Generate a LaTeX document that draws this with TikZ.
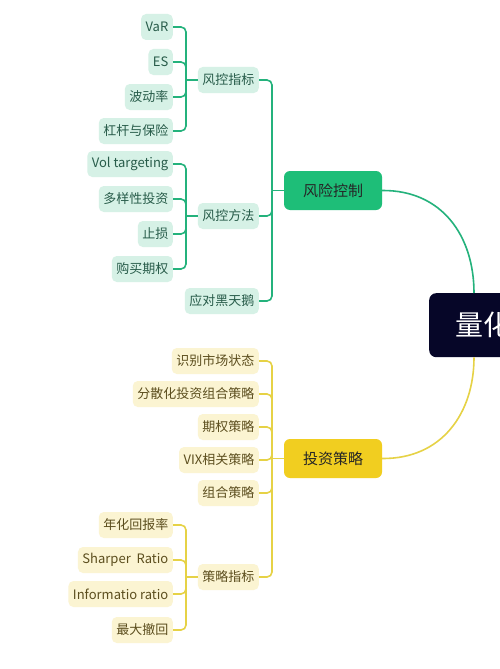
\documentclass[tikz,border=0pt]{standalone}
\usepackage{fontspec}
\setmainfont{Noto Sans CJK SC}
\usetikzlibrary{calc}
\definecolor{cg1}{RGB}{36,178,124}   % green lines
\definecolor{cg2}{RGB}{30,190,120}   % green main box
\definecolor{cg3}{RGB}{214,241,230}  % green leaf fill
\definecolor{cg4}{RGB}{40,92,74}     % green leaf text
\definecolor{cy1}{RGB}{230,210,70}   % yellow lines
\definecolor{cy2}{RGB}{241,206,32}   % yellow main box
\definecolor{cy3}{RGB}{251,244,210}  % yellow leaf fill
\definecolor{cy4}{RGB}{92,78,30}     % yellow leaf text
\definecolor{cc}{RGB}{6,6,40}        % central box

\tikzset{
  leafg/.style={fill=cg3,text=cg4,rounded corners=5pt,minimum height=26pt,
    inner xsep=4.5pt,font=\fontsize{13}{13}\selectfont,anchor=east},
  leafy/.style={leafg,fill=cy3,text=cy4},
  maing/.style={fill=cg2,text=black!85,rounded corners=6pt,minimum height=39pt,
    minimum width=98pt,font=\fontsize{15}{15}\selectfont},
  mainy/.style={maing,fill=cy2},
  gline/.style={draw=cg1,line width=1.6pt,rounded corners=5pt},
  yline/.style={draw=cy1,line width=1.6pt,rounded corners=5pt},
}

\begin{document}
\begin{tikzpicture}[x=1pt,y=-1pt]
    \useasboundingbox (0,0) rectangle (500,669);
    \clip (0,0) rectangle (500,669);
    \fill[white] (0,0) rectangle (500,669);

    % central node, cut by the right edge
    \node[fill=cc,text=white,rounded corners=7pt,anchor=north west,minimum width=140pt,
      minimum height=64pt,inner xsep=26pt,text width=88pt,
      font=\fontsize{28}{28}\selectfont] (center) at (429,293) {量化};
    \coordinate (ctop) at ([xshift=45pt]center.north west);
    \coordinate (cbot) at ([xshift=45pt]center.south west);

    % main branches
    \node[maing] (fxkz) at (333,190.5) {风险控制};
    \node[mainy] (tzcl) at (333,458.5) {投资策略};
    \draw[gline] (fxkz.east) .. controls (442,190) and (474,236) .. (ctop);
    \draw[yline] (tzcl.east) .. controls (442,459) and (474,413) .. (cbot);

    % ---- risk control ----
    \node[leafg] (fkzb) at (259,80) {风控指标};
    \node[leafg] (fkff) at (259,216) {风控方法};
    \node[leafg] (hts) at (259,301) {应对黑天鹅};
    \coordinate (gbus) at (272,190.5);
    \foreach \n in {fkzb,fkff,hts}
        \draw[gline] (\n.east) -| (gbus);
    \draw[gline] (gbus) -- (fxkz.west);

    % indicators
    \node[leafg] (var) at (173,27) {VaR};
    \node[leafg] (es) at (173,62) {ES};
    \node[leafg] (bdl) at (173,97) {波动率};
    \node[leafg] (ggbx) at (173,131) {杠杆与保险};
    \coordinate (zbbus) at (186,80);
    \foreach \n in {var,es,bdl,ggbx}
        \draw[gline] (\n.east) -| (zbbus);
    \draw[gline] (zbbus) -- (fkzb.west);

    % methods
    \node[leafg] (vol) at (173,164) {Vol targeting};
    \node[leafg] (dyx) at (173,199) {多样性投资};
    \node[leafg] (zs) at (173,234) {止损};
    \node[leafg] (gmqq) at (173,269) {购买期权};
    \coordinate (ffbus) at (186,216);
    \foreach \n in {vol,dyx,zs,gmqq}
        \draw[gline] (\n.east) -| (ffbus);
    \draw[gline] (ffbus) -- (fkff.west);

    % ---- investment strategy ----
    \node[leafy] (sbzt) at (259,361) {识别市场状态};
    \node[leafy] (fsh) at (259,394) {分散化投资组合策略};
    \node[leafy] (qqcl) at (259,427) {期权策略};
    \node[leafy] (vix) at (259,460) {VIX相关策略};
    \node[leafy] (zhcl) at (259,493) {组合策略};
    \node[leafy] (clzb) at (259,577) {策略指标};
    \coordinate (ybus) at (272,458.5);
    \foreach \n in {sbzt,fsh,qqcl,vix,zhcl,clzb}
        \draw[yline] (\n.east) -| (ybus);
    \draw[yline] (ybus) -- (tzcl.west);

    % strategy indicators
    \node[leafy] (nhhb) at (173,525) {年化回报率};
    \node[leafy] (shr) at (173,560) {Sharper~ Ratio};
    \node[leafy] (inf) at (173,594) {Informatio ratio};
    \node[leafy] (zdch) at (173,630) {最大撤回};
    \coordinate (clbus) at (186,577);
    \foreach \n in {nhhb,shr,inf,zdch}
        \draw[yline] (\n.east) -| (clbus);
    \draw[yline] (clbus) -- (clzb.west);
\end{tikzpicture}
\end{document}
